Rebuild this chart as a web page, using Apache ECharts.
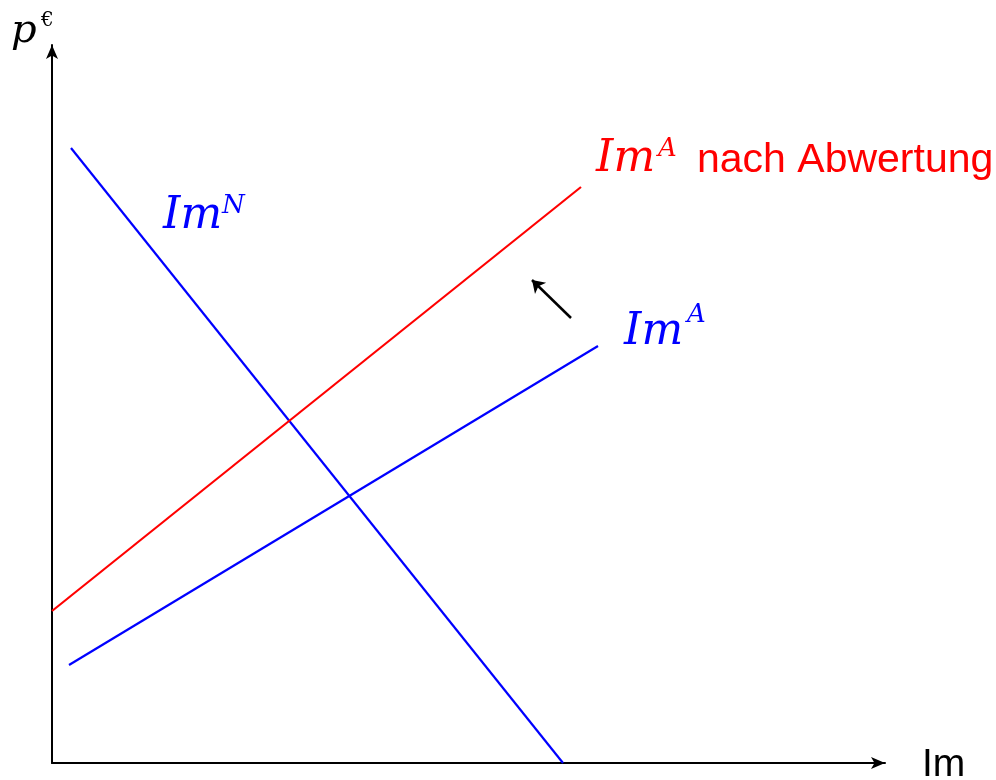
<!DOCTYPE html>
<html><head><meta charset="utf-8">
<script src="https://cdn.jsdelivr.net/npm/echarts@6/dist/echarts.min.js"></script>
<style>html,body{margin:0;padding:0;background:#fff}#c{width:996px;height:780px}</style>
</head><body><div id="c"></div>
<script>
// Data in abstract units (x: quantity Im, y: price p€)
const imN = [[19, 615], [511, 0]];
const imA = [[17, 98], [546, 417]];
const imAafter = [[0, 152], [529, 576]];
const shiftArrow = [[519, 445], [480, 483]];
const xMax = 833, yMax = 718;

const chart = echarts.init(document.getElementById('c'), null, {renderer: 'canvas'});
const serif = '"DejaVu Serif", serif';
const sans = '"Liberation Sans", sans-serif';
function txt(x, y, s, size, color, family, italic) {
  return {type: 'text', left: x, top: y, style: {text: s, fill: color, font: (italic ? 'italic ' : '') + size + 'px ' + family}};
}
chart.setOption({
  animation: false,
  grid: {left: 52, right: 111, top: 45, bottom: 17},
  xAxis: {type: 'value', min: 0, max: xMax, splitLine: {show: false}, axisTick: {show: false}, axisLabel: {show: false},
    axisLine: {lineStyle: {color: '#000', width: 2}, symbol: ['none', 'arrow'], symbolSize: [9, 14], symbolOffset: [0, 0]}},
  yAxis: {type: 'value', min: 0, max: yMax, splitLine: {show: false}, axisTick: {show: false}, axisLabel: {show: false},
    axisLine: {lineStyle: {color: '#000', width: 2}, symbol: ['none', 'arrow'], symbolSize: [9, 14], symbolOffset: [0, 0]}},
  series: [
    {type: 'line', data: imN, symbol: 'none', lineStyle: {color: '#0000ff', width: 2.2}},
    {type: 'line', data: imA, symbol: 'none', lineStyle: {color: '#0000ff', width: 2.2}},
    {type: 'line', data: imAafter, symbol: 'none', lineStyle: {color: '#ff0000', width: 2.2}},
    {type: 'lines', coordinateSystem: 'cartesian2d', symbol: ['none', 'arrow'], symbolSize: 12,
      lineStyle: {color: '#000', width: 2.5, opacity: 1}, data: [{coords: shiftArrow}]}
  ],
  graphic: [
    txt(11, 12, 'p', 40, '#000', serif, true),
    txt(41, 11, '€', 20, '#000', serif, false),
    txt(922, 746, 'Im', 39, '#000', sans, false),
    txt(163, 195, 'Im', 44, '#0000ff', serif, true),
    txt(222, 193, 'N', 26, '#0000ff', serif, true),
    txt(624, 311, 'Im', 44, '#0000ff', serif, true),
    txt(687, 302, 'A', 26, '#0000ff', serif, true),
    txt(596, 138, 'Im', 44, '#ff0000', serif, true),
    txt(658, 136, 'A', 26, '#ff0000', serif, true),
    txt(697, 140, 'nach Abwertung', 41, '#ff0000', sans, false)
  ]
});
</script></body></html>
